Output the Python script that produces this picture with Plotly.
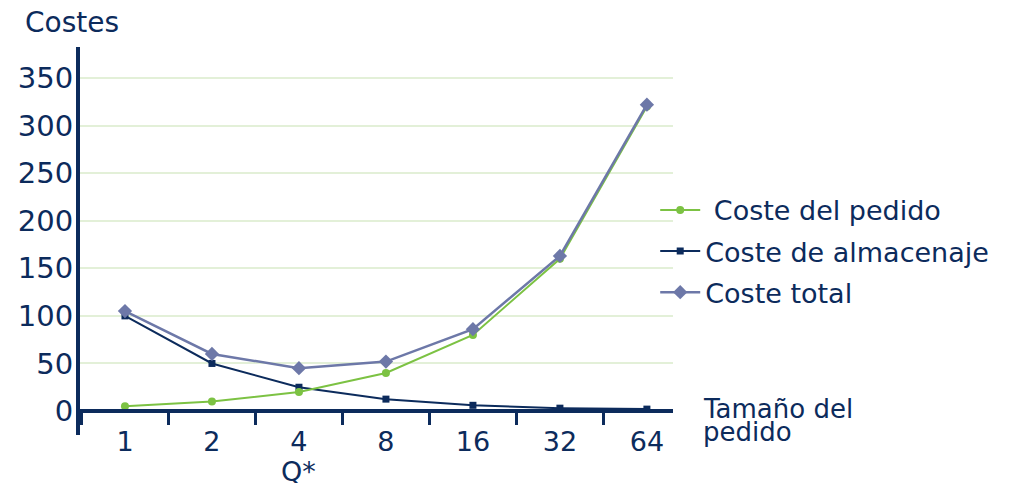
import plotly.graph_objects as go

categories = ["1", "2", "4", "8", "16", "32", "64"]
coste_pedido = [5, 10, 20, 40, 80, 160, 320]
coste_almacenaje = [100, 50, 25, 12.5, 6, 3, 2]
coste_total = [105, 60, 45, 52, 86, 163, 322]
y_ticks = [0, 50, 100, 150, 200, 250, 300, 350]

NAVY = "#0c2b5c"
GREEN = "#7cc243"
SLATE = "#6d78a8"
FONT = "DejaVu Sans, Verdana, sans-serif"

fig = go.Figure()
fig.add_trace(go.Scatter(x=categories, y=coste_almacenaje, name="Coste de almacenaje",
                         mode="lines+markers", line=dict(color=NAVY, width=2),
                         marker=dict(symbol="square", size=7, color=NAVY),
                         legendrank=2, legendgroup="b"))
fig.add_trace(go.Scatter(x=categories, y=coste_pedido, name=" Coste del pedido",
                         mode="lines+markers", line=dict(color=GREEN, width=2),
                         marker=dict(symbol="circle", size=8, color=GREEN),
                         legendrank=1, legendgroup="a"))
fig.add_trace(go.Scatter(x=categories, y=coste_total, name="Coste total",
                         mode="lines+markers", line=dict(color=SLATE, width=2.5),
                         marker=dict(symbol="diamond", size=11, color=SLATE),
                         legendrank=3, legendgroup="c"))

ymin, ymax = -25.2, 382.6
fig.update_layout(
    width=1005, height=475,
    margin=dict(l=72, r=340, t=39, b=48, autoexpand=False),
    paper_bgcolor="white", plot_bgcolor="white",
    font=dict(family=FONT, color=NAVY, size=27),
    showlegend=True,
    legend=dict(x=0.97, y=0.642, xanchor="left", yanchor="top",
                font=dict(size=27, color=NAVY, family=FONT),
                traceorder="grouped", tracegroupgap=3,
                bgcolor="rgba(0,0,0,0)", itemwidth=40),
    xaxis=dict(type="category", range=[-0.517, 6.30], automargin=False,
               anchor="free", position=(0 - ymin) / (ymax - ymin),
               showline=True, linecolor=NAVY, linewidth=3.5,
               ticks="outside", tickson="boundaries", ticklen=12, tickwidth=3,
               tickcolor=NAVY, showgrid=False, zeroline=False,
               tickfont=dict(size=27, color=NAVY), ticklabelstandoff=6),
    yaxis=dict(range=[ymin, ymax], tickvals=y_ticks, automargin=False,
               showline=True, linecolor=NAVY, linewidth=4,
               ticks="", showgrid=True, gridcolor="#e3f0d8", gridwidth=2,
               zeroline=False, tickfont=dict(size=29, color=NAVY),
               ticklabelstandoff=-3),
    annotations=[
        dict(text="Costes", xref="paper", yref="paper", x=-0.096, y=1.062,
             xanchor="left", yanchor="middle", showarrow=False,
             font=dict(size=28, color=NAVY)),
        dict(text="Tamaño del", xref="paper", yref="paper", x=1.047, y=0.068,
             xanchor="left", yanchor="middle", align="left", showarrow=False,
             font=dict(size=26, color=NAVY)),
        dict(text="pedido", xref="paper", yref="paper", x=1.047, y=0.009,
             xanchor="left", yanchor="middle", align="left", showarrow=False,
             font=dict(size=26, color=NAVY)),
        dict(text="Q*", xref="x", yref="paper", x=2, y=-0.095,
             xanchor="center", yanchor="middle", showarrow=False,
             font=dict(size=27, color=NAVY)),
    ],
)

fig.write_html("out.html")
